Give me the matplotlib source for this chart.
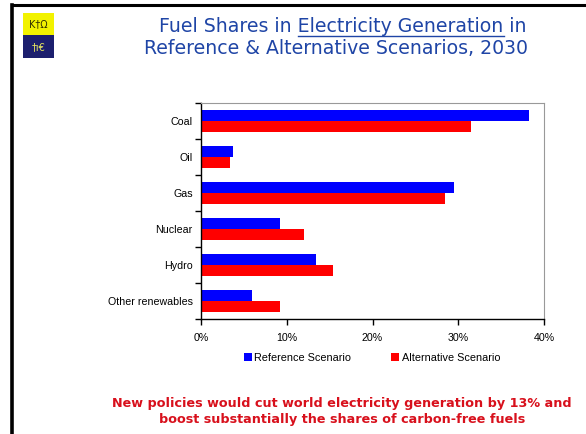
import numpy as np
import matplotlib.pyplot as plt
from matplotlib.patches import Rectangle
from matplotlib.lines import Line2D

fuels = ["Coal", "Oil", "Gas", "Nuclear", "Hydro", "Other renewables"]
reference = [38.3, 3.7, 29.5, 9.2, 13.4, 5.9]
alternative = [31.5, 3.4, 28.5, 12.0, 15.4, 9.2]
xticks = [0, 10, 20, 30, 40]

W, H = 586, 434
fig = plt.figure(figsize=(W / 100, H / 100), dpi=100)
fig.patch.set_facecolor("white")

# slide frame: top and left rules
fig.add_artist(Line2D([12 / W, 1], [1 - 5 / H, 1 - 5 / H], color="black", lw=2.2))
fig.add_artist(Line2D([12 / W, 12 / W], [0, 1 - 5 / H], color="black", lw=2.6))

# small logo at top-left
fig.add_artist(Rectangle((23 / W, 1 - 35 / H), 31 / W, 22 / H, color="#f2f200", lw=0))
fig.add_artist(Rectangle((23 / W, 1 - 58 / H), 31 / W, 23 / H, color="#1c1f6e", lw=0))
fig.text(38.5 / W, 1 - 24 / H, "K\u2020\u03a9", ha="center", va="center", fontsize=7,
         color="#333300", family="DejaVu Sans")
fig.text(38.5 / W, 1 - 47 / H, "\u2020\u0131\u20ac", ha="center", va="center", fontsize=7,
         color="#e8e860", family="DejaVu Sans")

# title
title_color = "#1f45a6"
tfont = dict(fontsize=13.6, color=title_color, family="DejaVu Sans")
cx = 343 / W
pre, mid, post = "Fuel Shares in ", "Electricity Generation", " in"
t1 = fig.text(cx, 1 - 27 / H, pre + mid + post, ha="center", va="center", **tfont)
fig.text(336 / W, 1 - 49 / H, "Reference & Alternative Scenarios, 2030",
         ha="center", va="center", **tfont)

renderer = fig.canvas.get_renderer()


def text_width(s):
    t = fig.text(0, 0, s, **tfont)
    w = t.get_window_extent(renderer).width
    t.remove()
    return w


full_w = t1.get_window_extent(renderer).width
x0 = cx * W - full_w / 2 + text_width(pre)
x1 = x0 + text_width(mid)
uy = 1 - 36 / H
fig.add_artist(Line2D([x0 / W, x1 / W], [uy, uy], color=title_color, lw=1.0))

# bar chart
ax = fig.add_axes([201 / W, 1 - 319 / H, 343 / W, 216 / H])
y = np.arange(len(fuels))
h = 0.3
ax.barh(y - h / 2, reference, height=h, color="#0000ff", label="Reference Scenario")
ax.barh(y + h / 2, alternative, height=h, color="#ff0000", label="Alternative Scenario")

ax.set_xlim(0, 40)
ax.set_ylim(len(fuels) - 0.5, -0.5)
ax.set_xticks(xticks)
ax.set_xticklabels([f"{v}%" for v in xticks])
ax.set_yticks(y)
ax.set_yticklabels(fuels)
ax.set_yticks(np.arange(len(fuels) + 1) - 0.5, minor=True)
ax.tick_params(axis="y", which="major", length=0, pad=6)
ax.tick_params(axis="y", which="minor", length=4, width=1, direction="out")
ax.tick_params(axis="x", length=4, width=1, direction="out", pad=6)
for lab in ax.get_xticklabels() + ax.get_yticklabels():
    lab.set_family("Liberation Sans")
    lab.set_fontsize(7.7)
for side in ("top", "right"):
    ax.spines[side].set_color("#999999")
    ax.spines[side].set_linewidth(0.8)
for side in ("left", "bottom"):
    ax.spines[side].set_linewidth(1.0)

leg = fig.legend(loc="center", bbox_to_anchor=(372 / W, 1 - 358 / H), ncol=2,
                 frameon=False, handlelength=0.75, handleheight=0.75,
                 handletextpad=0.2, columnspacing=3.7,
                 prop={"family": "Liberation Sans", "size": 7.8})

note = ("New policies would cut world electricity generation by 13% and\n"
        "boost substantially the shares of carbon-free fuels")
fig.text(342 / W, 1 - 411 / H, note, ha="center", va="center", fontsize=9.2,
         fontweight="bold", color="#d8101c", family="DejaVu Sans", linespacing=1.3)

fig.savefig("out.png", dpi=100)
